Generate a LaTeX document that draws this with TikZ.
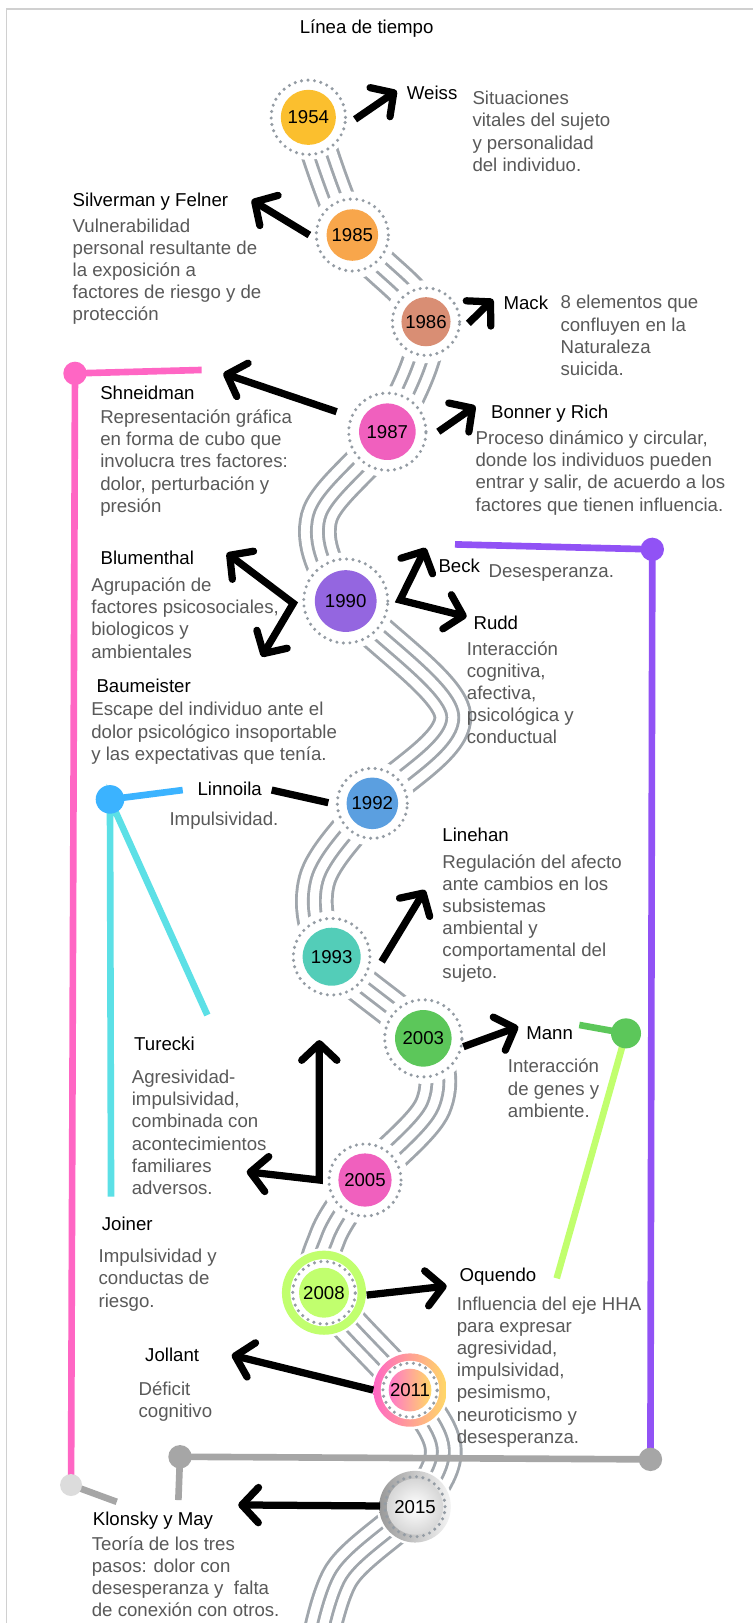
\documentclass[tikz,border=0pt]{standalone}
\usepackage{fontspec}
\setmainfont{Liberation Sans}
\usetikzlibrary{arrows.meta}
\definecolor{framegray}{RGB}{208,208,208}
\definecolor{txtgray}{RGB}{89,89,89}
\definecolor{bandgray}{RGB}{160,166,172}
\definecolor{dotgray}{RGB}{148,156,164}
\definecolor{yrA}{RGB}{251,191,46}
\definecolor{yrB}{RGB}{248,166,75}
\definecolor{yrC}{RGB}{217,142,116}
\definecolor{yrD}{RGB}{240,96,190}
\definecolor{yrE}{RGB}{148,102,224}
\definecolor{yrF}{RGB}{91,159,224}
\definecolor{yrG}{RGB}{83,205,184}
\definecolor{yrH}{RGB}{92,199,90}
\definecolor{yrI}{RGB}{193,255,110}
\definecolor{gradP}{RGB}{255,102,196}
\definecolor{gradY}{RGB}{255,217,102}
\definecolor{lnPink}{RGB}{255,102,196}
\definecolor{lnPurple}{RGB}{145,82,245}
\definecolor{lnBlue}{RGB}{59,179,255}
\definecolor{lnCyan}{RGB}{92,224,230}
\definecolor{lnGreen}{RGB}{92,199,90}
\definecolor{lnLime}{RGB}{193,255,110}
\definecolor{lnGray}{RGB}{166,166,166}
\definecolor{dotLight}{RGB}{220,220,220}
\newcommand{\mystrut}{\rule{0pt}{16pt}}
\begin{document}
\begin{tikzpicture}[x=1pt,y=-1pt,
  namelbl/.style={font=\fontsize{18}{21.4}\selectfont, text=black, inner sep=0pt, anchor=base west},
  descone/.style={font=\fontsize{18}{21.4}\selectfont, text=txtgray, inner sep=0pt, anchor=base west},
  desclbl/.style={font=\fontsize{18}{21.4}\selectfont, text=txtgray, inner sep=0pt, anchor=north west, align=left},
  yearnode/.style={circle, inner sep=0pt, font=\fontsize{18}{20}\selectfont, text=black},
  dotring/.style={draw=dotgray, line width=3.3pt, dash pattern=on 0pt off 6.3pt, line cap=round},
  arr/.style={line width=7pt, -{Straight Barb[round,length=16pt,width=34pt]}},
  dblarr/.style={line width=7pt, {Straight Barb[round,length=16pt,width=34pt]}-{Straight Barb[round,length=16pt,width=34pt]}},
  conn/.style={line width=6.4pt},
  cdot/.style={circle, inner sep=0pt},
]
\useasboundingbox (0,0) rectangle (727,1567);
\fill[white] (0,0) rectangle (727,1567);
% frame
\draw[framegray, line width=1.6pt] (727,8.4) -- (6.2,8.4) -- (6.2,1567);
% title
\node[font=\fontsize{18}{21.4}\selectfont, inner sep=0pt, anchor=base] (title) at (354,32) {Línea de tiempo};

% band of four lines
\foreach \w/\c in {37.3/bandgray,31.7/white,14.3/bandgray,8.7/white}
  \draw[line width=\w pt, draw=\c] plot[smooth, tension=0.55] coordinates {(297.7,113.3) (340.2,226.9) (411.3,310.6) (374,416.8) (308,500) (333.8,580.3) (437,690) (359.5,775.6) (306,850) (320.2,923.7) (408.7,1002.5) (418,1068) (352.4,1139.3) (316,1195) (312.8,1248.1) (395.9,1342.1) (428,1400) (400.7,1454.7) (330,1520) (306,1600)};

% white gaps round circles
\fill[white] (297.7,113.3) circle[radius=41pt];
\fill[white] (340.2,226.9) circle[radius=42pt];
\fill[white] (411.3,310.6) circle[radius=40pt];
\fill[white] (374,416.8) circle[radius=44pt];
\fill[white] (333.8,580.3) circle[radius=47pt];
\fill[white] (359.5,775.6) circle[radius=41pt];
\fill[white] (320.2,923.7) circle[radius=44pt];
\fill[white] (408.7,1002.5) circle[radius=44pt];
\fill[white] (352.4,1139.3) circle[radius=42pt];
\fill[white] (312.8,1248.1) circle[radius=43pt];
\fill[white] (395.9,1342.1) circle[radius=38pt];
\fill[white] (400.7,1454.7) circle[radius=37pt];

% connector coordinates
\coordinate (pinkDotC) at (72.4,360.5);
\coordinate (pinkEnd) at (194.7,357.2);
\coordinate (lightDotC) at (68.6,1433.8);
\coordinate (lightEnd) at (112.7,1450);
\coordinate (purpleEnd) at (439.3,525.6);
\coordinate (purpleDotC) at (629.8,530.4);
\coordinate (grayLC) at (173.8,1406.5);
\coordinate (grayRC) at (628,1409);
\coordinate (grayEnd) at (172.2,1448.3);
\coordinate (blueDotC) at (106.2,771.8);
\coordinate (blueEnd) at (176.4,762.8);
\coordinate (cyanEndA) at (107.2,1155.4);
\coordinate (cyanEndB) at (200.2,980);
\coordinate (greenDotC) at (604.4,997.7);
\coordinate (greenEnd) at (559.3,989.6);
\coordinate (limeEnd) at (537.5,1234.2);

\draw[conn, lnPink] (pinkEnd) -- (pinkDotC) -- (lightDotC);
\draw[conn, lnGray] (lightDotC) -- (lightEnd);
\draw[conn, lnPurple] (purpleEnd) -- (purpleDotC) -- (grayRC);
\draw[conn, lnGray] (grayEnd) -- (grayLC) -- (grayRC);
\draw[conn, lnCyan] (cyanEndA) -- (blueDotC) -- (cyanEndB);
\draw[conn, lnBlue] (blueDotC) -- (blueEnd);
\draw[conn, lnLime] (limeEnd) -- (greenDotC);
\draw[conn, lnGreen] (greenDotC) -- (greenEnd);

\node[cdot, fill=lnPink, minimum size=22.6pt] (pinkDot) at (pinkDotC) {};
\node[cdot, fill=dotLight, minimum size=21.2pt] (lightDot) at (lightDotC) {};
\node[cdot, fill=lnPurple, minimum size=22.6pt] (purpleDot) at (purpleDotC) {};
\node[cdot, fill=lnGray, minimum size=22.6pt] (grayL) at (grayLC) {};
\node[cdot, fill=lnGray, minimum size=22.6pt] (grayR) at (grayRC) {};
\node[cdot, fill=lnBlue, minimum size=27.6pt] (blueDot) at (blueDotC) {};
\node[cdot, fill=lnGreen, minimum size=29pt] (greenDot) at (greenDotC) {};

% year circles
\node[yearnode, fill=yrA, minimum size=53.2pt] (c1954) at (297.7,113.3) {1954};
\draw[dotring] (c1954.center) circle[radius=35.9pt];
\node[yearnode, fill=yrB, minimum size=49.8pt] (c1985) at (340.2,226.9) {1985};
\draw[dotring] (c1985.center) circle[radius=34.8pt];
\node[yearnode, fill=yrC, minimum size=47.4pt] (c1986) at (411.3,310.6) {1986};
\draw[dotring] (c1986.center) circle[radius=32.5pt];
\node[yearnode, fill=yrD, minimum size=54.6pt] (c1987) at (374,416.8) {1987};
\draw[dotring] (c1987.center) circle[radius=37.3pt];
\node[yearnode, fill=yrE, minimum size=59.6pt] (c1990) at (333.8,580.3) {1990};
\draw[dotring] (c1990.center) circle[radius=40.6pt];
\node[yearnode, fill=yrF, minimum size=49.8pt] (c1992) at (359.5,775.6) {1992};
\draw[dotring] (c1992.center) circle[radius=33.8pt];
\node[yearnode, fill=yrG, minimum size=56pt] (c1993) at (320.2,923.7) {1993};
\draw[dotring] (c1993.center) circle[radius=37pt];
\node[yearnode, fill=yrH, minimum size=54.6pt] (c2003) at (408.7,1002.5) {2003};
\draw[dotring] (c2003.center) circle[radius=37.3pt];
\node[yearnode, fill=yrD, minimum size=51.4pt] (c2005) at (352.4,1139.3) {2005};
\draw[dotring] (c2005.center) circle[radius=34.8pt];
% 2008
\fill[yrI] (312.8,1248.1) circle[radius=40.6pt];
\fill[white] (312.8,1248.1) circle[radius=32.4pt];
\draw[dotring] (312.8,1248.1) circle[radius=30.2pt];
\node[yearnode, fill=yrI, minimum size=48.2pt] (c2008) at (312.8,1248.1) {2008};
% 2011
\shade[left color=gradP, right color=gradY] (395.9,1342.1) circle[radius=35.4pt];
\fill[white] (395.9,1342.1) circle[radius=28.2pt];
\draw[dotring] (395.9,1342.1) circle[radius=26.2pt];
\shade[left color=gradP!90, right color=gradY] (395.9,1342.1) circle[radius=20.6pt];
\node[yearnode] (c2011) at (395.9,1342.1) {2011};
% 2015
\shade[left color=black!40, right color=black!4] (400.7,1454.7) circle[radius=34.6pt];
\shade[inner color=white, outer color=black!16] (400.7,1454.7) circle[radius=27pt];
\draw[dotring] (400.7,1454.7) circle[radius=29pt];
\node[yearnode] (c2015) at (400.7,1454.7) {2015};

% arrow coordinates
\coordinate (a1s) at (342.8,115.2); \coordinate (a1t) at (383,87.6);
\coordinate (a2s) at (298.7,226.9); \coordinate (a2t) at (243,193.1);
\coordinate (a3s) at (452.2,312.2); \coordinate (a3t) at (476,289);
\coordinate (a4s) at (325,397.5);   \coordinate (a4t) at (215.6,360.5);
\coordinate (a5s) at (423.2,416.8); \coordinate (a5t) at (459,392);
\coordinate (a6a) at (219,534);     \coordinate (a6j) at (283.2,582.5); \coordinate (a6b) at (252.7,634);
\coordinate (a7a) at (411,529);     \coordinate (a7j) at (386.2,579.3); \coordinate (a7b) at (450.6,595.4);
\coordinate (a8s) at (317,775);     \coordinate (a8t) at (262.3,762.8);
\coordinate (a9s) at (368.5,928.5); \coordinate (a9t) at (410.4,859.3);
\coordinate (a10s) at (447.4,1010.6); \coordinate (a10t) at (500.4,991.3);
\coordinate (a11a) at (308.3,1004.2); \coordinate (a11j) at (308.3,1139.3); \coordinate (a11b) at (238.2,1131.3);
\coordinate (a12s) at (354,1250.4); \coordinate (a12t) at (431.3,1241.7);
\coordinate (a13s) at (360.4,1342.1); \coordinate (a13t) at (223.7,1308.3);
\coordinate (a14s) at (366.9,1454); \coordinate (a14t) at (230,1453);

\draw[arr] (a1s) -- (a1t);
\draw[arr] (a2s) -- (a2t);
\draw[arr] (a3s) -- (a3t);
\draw[arr] (a4s) -- (a4t);
\draw[arr] (a5s) -- (a5t);
\draw[dblarr] (a6a) -- (a6j) -- (a6b);
\draw[dblarr] (a7a) -- (a7j) -- (a7b);
\draw[line width=7pt] (a8s) -- (a8t);
\draw[arr] (a9s) -- (a9t);
\draw[arr] (a10s) -- (a10t);
\draw[dblarr] (a11a) -- (a11j) -- (a11b);
\draw[arr] (a12s) -- (a12t);
\draw[arr] (a13s) -- (a13t);
\draw[arr] (a14s) -- (a14t);

% names
\node[namelbl] (nWeiss) at (392.7,96.5) {Weiss};
\node[namelbl] (nSilverman) at (70,199) {Silverman y Felner};
\node[namelbl] (nMack) at (486,298.5) {Mack};
\node[namelbl] (nShneidman) at (96.6,385.5) {Shneidman};
\node[namelbl] (nBonner) at (474,404) {Bonner y Rich};
\node[namelbl] (nBlumenthal) at (97,545) {Blumenthal};
\node[namelbl] (nBeck) at (423.2,553) {Beck};
\node[namelbl] (nRudd) at (457,607.6) {Rudd};
\node[namelbl] (nBaumeister) at (93,669) {Baumeister};
\node[namelbl] (nLinnoila) at (190.5,767.6) {Linnoila};
\node[namelbl] (nLinehan) at (427,812) {Linehan};
\node[namelbl] (nTurecki) at (129.4,1014.5) {Turecki};
\node[namelbl] (nMann) at (507.9,1003.5) {Mann};
\node[namelbl] (nJoiner) at (98.2,1188.2) {Joiner};
\node[namelbl] (nOquendo) at (443.5,1236.8) {Oquendo};
\node[namelbl] (nJollant) at (140,1314.7) {Jollant};
\node[namelbl] (nKlonsky) at (89.5,1472.4) {Klonsky y May};

% descriptions
\node[desclbl] (dWeiss) at (456,85) {\mystrut Situaciones\\vitales del sujeto\\y personalidad\\del individuo.};
\node[desclbl] (dSilverman) at (70,208) {\mystrut Vulnerabilidad\\personal resultante de\\la exposición a\\factores de riesgo y de\\protección};
\node[desclbl] (dMack) at (541,282) {\mystrut 8 elementos que\\confluyen en la\\Naturaleza\\suicida.};
\node[desclbl] (dShneidman) at (96.6,392.7) {\mystrut Representación gráfica\\en forma de cubo que\\involucra tres factores:\\dolor, perturbación y\\presión};
\node[desclbl] (dBonner) at (459,413) {\mystrut Proceso dinámico y circular,\\donde los individuos pueden\\entrar y salir, de acuerdo a los\\factores que tienen influencia.};
\node[desclbl] (dBlumenthal) at (88,555) {\mystrut Agrupación de\\factores psicosociales,\\biologicos y\\ambientales};
\node[descone] (dBeck) at (471.5,557.4) {Desesperanza.};
\node[desclbl] (dRudd) at (450.6,616.4) {\mystrut Interacción\\cognitiva,\\afectiva,\\psicológica y\\conductual};
\node[desclbl] (dBaumeister) at (88,675) {\mystrut Escape del individuo ante el\\dolor psicológico insoportable\\y las expectativas que tenía.};
\node[descone] (dLinnoila) at (163.5,796.6) {Impulsividad.};
\node[desclbl] (dLinehan) at (427,822) {\mystrut Regulación del afecto\\ante cambios en los\\subsistemas\\ambiental y\\comportamental del\\sujeto.};
\node[desclbl] (dTurecki) at (127.1,1030) {\mystrut Agresividad-\\impulsividad,\\combinada con\\acontecimientos\\familiares\\adversos.};
\node[desclbl] (dMann) at (490.2,1019.7) {\mystrut Interacción\\de genes y\\ambiente.};
\node[desclbl] (dJoiner) at (95,1203) {\mystrut Impulsividad y\\conductas de\\riesgo.};
\node[desclbl] (dOquendo) at (440.9,1248.8) {\mystrut Influencia del eje HHA\\para expresar\\agresividad,\\impulsividad,\\pesimismo,\\neuroticismo y\\desesperanza.};
\node[desclbl] (dJollant) at (133.6,1330.9) {\mystrut Déficit\\cognitivo};
\node[desclbl] (dKlonsky) at (88.5,1480.5) {\mystrut Teoría de los tres\\pasos: dolor con\\desesperanza y \ falta\\de conexión con otros.};
\end{tikzpicture}
\end{document}
